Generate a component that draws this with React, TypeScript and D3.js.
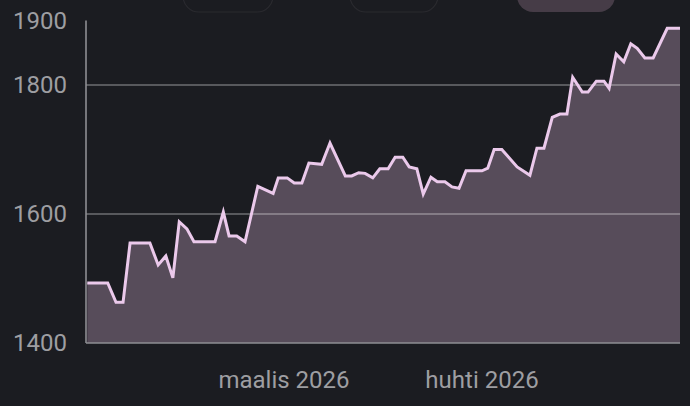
import { useEffect, useRef } from 'react';
import * as d3 from 'd3';

// Sample offsets in days from the start of the window, and the values
const START = new Date(2026, 0, 29);
const END = new Date(2026, 4, 2);

const dayOffsets = [
  0.2, 3.4, 4.7, 5.8, 6.9, 10.0, 11.3, 12.5, 13.6, 14.6,
  15.8, 16.9, 20.2, 21.5, 22.4, 23.6, 24.9, 26.9, 29.3, 30.1,
  31.5, 32.6, 33.8, 34.9, 36.9, 38.2, 40.6, 41.6, 42.7, 43.7,
  44.9, 46.0, 47.3, 48.4, 49.6, 50.6, 51.8, 52.8, 54.0, 55.0,
  56.2, 57.3, 58.4, 59.5, 62.0, 62.9, 63.9, 65.1, 67.5, 69.5,
  70.6, 71.7, 73.0, 74.2, 75.3, 76.2, 77.7, 78.6, 79.9, 81.1,
  81.9, 83.0, 84.2, 85.3, 86.3, 87.5, 88.8, 91.0, 93.0,
];

const values = [
  1493, 1493, 1463, 1463, 1555, 1555, 1521, 1535, 1501, 1588,
  1577, 1557, 1557, 1603, 1566, 1566, 1557, 1643, 1632, 1656,
  1656, 1648, 1648, 1679, 1677, 1710, 1659, 1659, 1664, 1663,
  1656, 1670, 1670, 1688, 1688, 1673, 1670, 1631, 1657, 1650,
  1650, 1642, 1640, 1667, 1667, 1671, 1700, 1700, 1673, 1660,
  1702, 1702, 1750, 1755, 1755, 1812, 1789, 1789, 1806, 1806,
  1795, 1848, 1836, 1864, 1857, 1842, 1842, 1888, 1888,
];

const yTicks = [1400, 1600, 1800, 1900];
const gridValues = [1600, 1800];
const xTickDates = [new Date(2026, 2, 1), new Date(2026, 3, 1)];
const xTickLabels = ['maalis 2026', 'huhti 2026'];

// range selector chips peeking in at the top edge
const chips = [
  { x0: 183, x1: 273, active: false },
  { x0: 350, x1: 438, active: false },
  { x0: 517, x1: 615, active: true },
];

const BG = '#1b1c21';

const App = () => {
  const svgRef = useRef<SVGSVGElement>(null);

  useEffect(() => {
    if (!svgRef.current) return;
    const svg = d3.select(svgRef.current);
    svg.selectAll('*').remove();

    const width = 690;
    const height = 406;
    const margin = { top: 20.5, right: 10, bottom: 63, left: 86 };

    const data = dayOffsets.map((d, i) => ({
      date: new Date(START.getTime() + d * 864e5),
      value: values[i],
    }));

    const x = d3.scaleTime()
      .domain([START, END])
      .range([margin.left, width - margin.right]);

    const y = d3.scaleLinear()
      .domain([1400, 1900])
      .range([height - margin.bottom, margin.top]);

    svg.append('rect')
      .attr('width', width)
      .attr('height', height)
      .attr('fill', BG);

    // chips
    svg.selectAll('.chip')
      .data(chips)
      .enter()
      .append('rect')
      .attr('x', d => d.x0)
      .attr('y', -30)
      .attr('width', d => d.x1 - d.x0)
      .attr('height', 42)
      .attr('rx', 16)
      .attr('fill', d => d.active ? '#463c47' : BG)
      .attr('stroke', d => d.active ? 'none' : '#2a2a2f')
      .attr('stroke-width', 1.2);

    const area = d3.area<{ date: Date; value: number }>()
      .x(d => x(d.date))
      .y0(y(1400))
      .y1(d => y(d.value));

    const line = d3.line<{ date: Date; value: number }>()
      .x(d => x(d.date))
      .y(d => y(d.value));

    svg.append('path')
      .datum(data)
      .attr('d', area)
      .attr('fill', '#574c5a');

    // grid lines
    svg.selectAll('.grid')
      .data(gridValues)
      .enter()
      .append('line')
      .attr('x1', margin.left)
      .attr('x2', width - margin.right)
      .attr('y1', d => y(d))
      .attr('y2', d => y(d))
      .attr('stroke', 'rgba(255,255,255,0.36)')
      .attr('stroke-width', 1.5);

    svg.append('path')
      .datum(data)
      .attr('d', line)
      .attr('fill', 'none')
      .attr('stroke', '#ebc9eb')
      .attr('stroke-width', 3);

    // axes lines
    svg.append('line')
      .attr('x1', margin.left)
      .attr('x2', margin.left)
      .attr('y1', y(1900))
      .attr('y2', y(1400))
      .attr('stroke', '#8e8e93')
      .attr('stroke-width', 1.6);

    svg.append('line')
      .attr('x1', margin.left)
      .attr('x2', width - margin.right)
      .attr('y1', y(1400))
      .attr('y2', y(1400))
      .attr('stroke', '#8e8e93')
      .attr('stroke-width', 1.6);

    // y labels
    svg.selectAll('.ylabel')
      .data(yTicks)
      .enter()
      .append('text')
      .attr('x', 67)
      .attr('y', d => y(d))
      .attr('dy', '0.35em')
      .attr('text-anchor', 'end')
      .attr('font-family', 'Roboto, sans-serif')
      .attr('font-size', 24)
      .attr('fill', '#9e9ea2')
      .text(d => d);

    // x labels
    svg.selectAll('.xlabel')
      .data(xTickDates)
      .enter()
      .append('text')
      .attr('x', d => x(d))
      .attr('y', 388)
      .attr('text-anchor', 'middle')
      .attr('font-family', 'Roboto, sans-serif')
      .attr('font-size', 24)
      .attr('fill', '#9e9ea2')
      .text((_, i) => xTickLabels[i]);
  }, []);

  return (
    <div style={{ position: 'fixed', left: 0, top: 0, width: 690, height: 406, background: BG }}>
      <svg ref={svgRef} width={690} height={406} style={{ display: 'block' }} />
    </div>
  );
};

export default App;
